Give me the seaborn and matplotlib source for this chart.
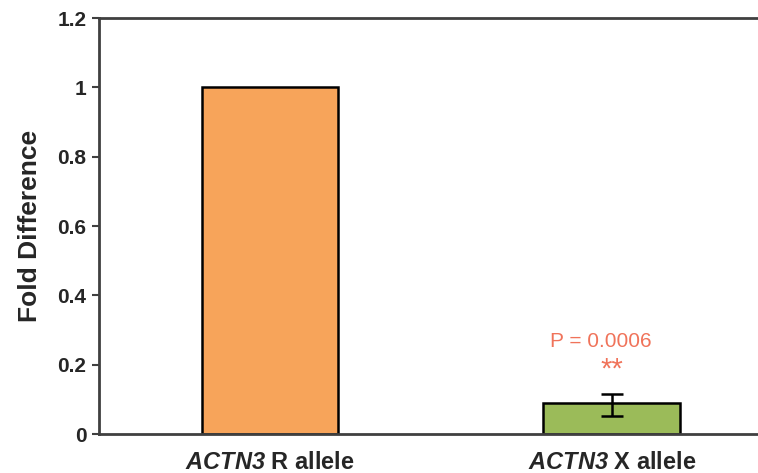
import matplotlib
matplotlib.use("Agg")
import matplotlib.pyplot as plt
import seaborn as sns
import pandas as pd

categories = ["R allele", "X allele"]
gene = "ACTN3"
values = [1.0, 0.088]
err_low = [0.0, 0.035]
err_high = [0.0, 0.027]
colors = ["#F7A45A", "#9BBB59"]
yticks = [0, 0.2, 0.4, 0.6, 0.8, 1, 1.2]
ytick_labels = ["0", "0.2", "0.4", "0.6", "0.8", "1", "1.2"]
annot_p = "P = 0.0006"
annot_star = "**"

sns.set_theme(style="white")
plt.rcParams['font.family'] = ['Liberation Sans', 'DejaVu Sans']
plt.rcParams['mathtext.fontset'] = 'custom'
plt.rcParams['mathtext.bfit'] = 'Liberation Sans:italic:bold'
plt.rcParams['mathtext.bf'] = 'Liberation Sans:bold'
plt.rcParams['mathtext.it'] = 'Liberation Sans:italic'
plt.rcParams['mathtext.rm'] = 'Liberation Sans'

df = pd.DataFrame({"cat": categories, "val": values})

fig = plt.figure(figsize=(7.58, 4.73), dpi=100)
ax = fig.add_axes([99/758, 39/473, 1 - 99/758, (434-18)/473])

sns.barplot(data=df, x="cat", y="val", hue="cat", palette=colors, legend=False,
            width=0.4, edgecolor="black", linewidth=1.8, ax=ax, errorbar=None,
            saturation=1)

ax.errorbar([1], [values[1]], yerr=[[err_low[1]], [err_high[1]]], fmt="none",
            ecolor="black", elinewidth=1.8, capsize=8, capthick=1.8)

ax.set_xlim(-0.5, 1.428)
ax.set_ylim(0, 1.2)
ax.set_yticks(yticks)
ax.set_yticklabels(ytick_labels, fontsize=15, fontweight="bold")
ax.set_xticks([0, 1])
ax.set_xticklabels([r"$\mathbfit{" + gene + "}$ " + c for c in categories],
                   fontsize=17, fontweight="bold")
ax.tick_params(axis="y", left=True, length=5, width=1.5, color="#404040", pad=4)
ax.tick_params(axis="x", bottom=False, pad=6)

for s in ["left", "top", "bottom"]:
    ax.spines[s].set_color("#404040")
    ax.spines[s].set_linewidth(2)
ax.spines["right"].set_visible(False)

ax.set_xlabel("")
ax.set_ylabel("Fold Difference", fontsize=19, fontweight="bold", labelpad=11)

ax.annotate(annot_p, xy=(1, 0.266), xytext=(-8, 0), textcoords="offset points",
            color="#F0735A", fontsize=15, ha="center", va="center")
ax.text(1, 0.185, annot_star, color="#F0735A", fontsize=21, ha="center", va="center")

fig.savefig("out.png", dpi=100)
